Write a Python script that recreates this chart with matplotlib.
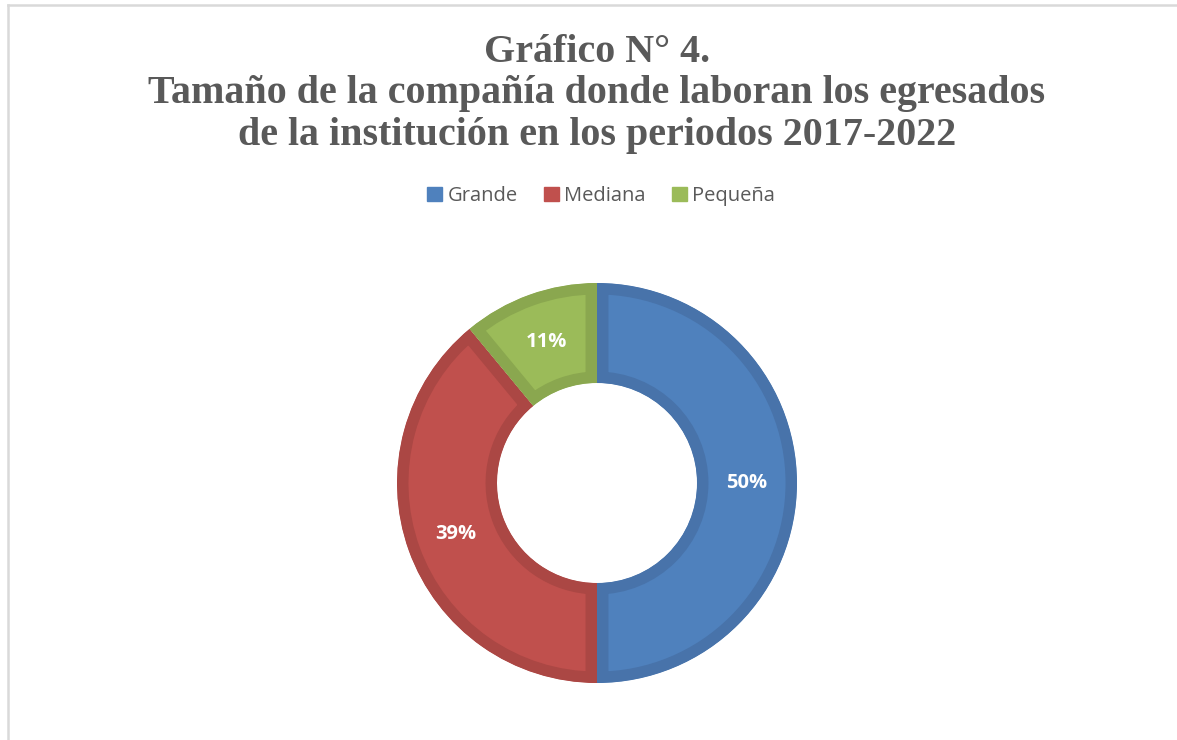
"""
Gráfico de dona: tamaño de la compañía donde laboran los egresados
"""
import matplotlib
matplotlib.use("Agg")
import matplotlib.pyplot as plt
from matplotlib.lines import Line2D

# datos
categorias = ["Grande", "Mediana", "Pequeña"]
porcentajes = [50, 39, 11]
colores = ["#4F81BD", "#C0504D", "#9BBB59"]
bordes = ["#4873AA", "#AB4744", "#8AA74F"]

titulo = ("Gráfico N° 4.\n"
          "Tamaño de la compañía donde laboran los egresados\n"
          "de la institución en los periodos 2017-2022")

W, H = 1177, 740
fig = plt.figure(figsize=(W / 100, H / 100), dpi=100)
fig.patch.set_facecolor("white")

# marco gris claro (arriba e izquierda)
fig.add_artist(Line2D([8 / W, 8 / W], [0, 1 - 5 / H], color="#D9D9D9", lw=1.8))
fig.add_artist(Line2D([8 / W, 1], [1 - 5 / H, 1 - 5 / H], color="#D9D9D9", lw=1.8))

# título
fig.text(597 / W, 1 - 94 / H, titulo, ha="center", va="center",
         fontsize=28.8, fontweight="bold", family="Liberation Serif",
         color="#595959", linespacing=1.16)

# dona
cx, cy, r = 597, 483, 200
ax = fig.add_axes([(cx - r) / W, (H - cy - r) / H, 2 * r / W, 2 * r / H])
wedges, textos = ax.pie(
    porcentajes, colors=colores, startangle=90, counterclock=False,
    radius=1.0, wedgeprops=dict(width=0.5, linewidth=16.5, joinstyle="miter"),
    labels=[f"{p}%" for p in porcentajes], labeldistance=0.75,
    textprops=dict(color="white", fontsize=14.5, fontweight="bold",
                   family="Open Sans", ha="center", va="center"),
)
ax.set_xlim(-1, 1)
ax.set_ylim(-1, 1)
ax.set_aspect("auto")
ax.axis("off")
# borde más oscuro solo hacia dentro de cada sector
for w, b in zip(wedges, bordes):
    w.set_edgecolor(b)
    w.set_clip_on(True)
    w.set_clip_path(w)

# leyenda
handles = [plt.Rectangle((0, 0), 1, 1, color=c) for c in colores]
fig.legend(handles, categorias, loc="center", bbox_to_anchor=(601 / W, 1 - 196 / H),
           ncol=3, frameon=False, handlelength=0.75, handleheight=0.75,
           handletextpad=0.25, columnspacing=1.3,
           prop=dict(family="Open Sans", size=14.5), labelcolor="#595959")

fig.savefig("out.png", dpi=100)
